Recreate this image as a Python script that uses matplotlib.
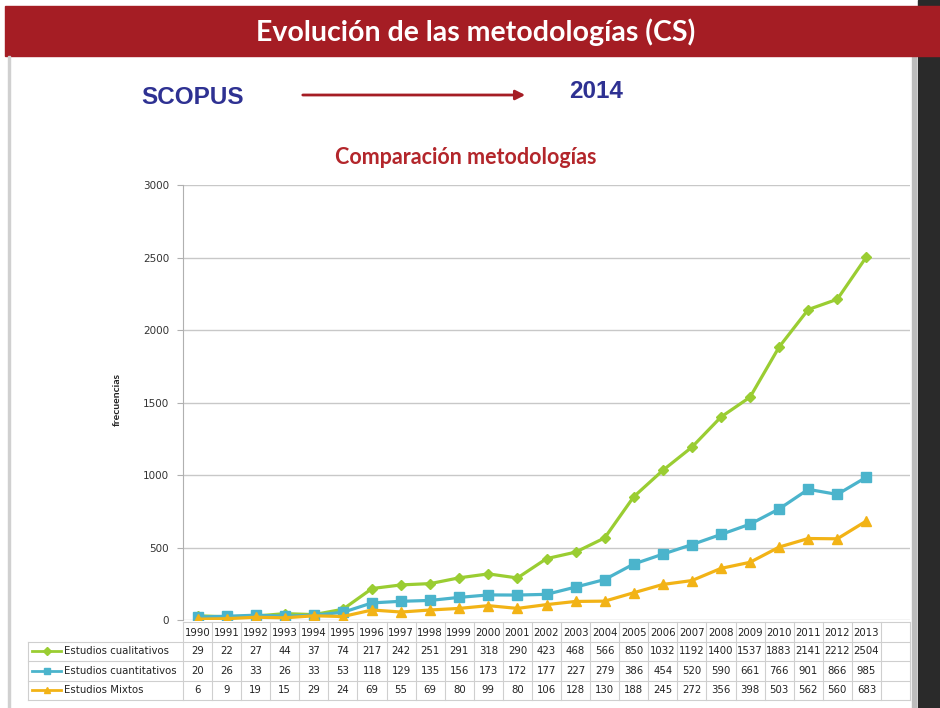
import matplotlib
matplotlib.use("Agg")
import matplotlib.pyplot as plt
from matplotlib.patches import Rectangle, FancyArrowPatch

years = ["1990", "1991", "1992", "1993", "1994", "1995", "1996", "1997", "1998", "1999",
         "2000", "2001", "2002", "2003", "2004", "2005", "2006", "2007", "2008", "2009",
         "2010", "2011", "2012", "2013"]
cualitativos = [29, 22, 27, 44, 37, 74, 217, 242, 251, 291, 318, 290, 423, 468, 566, 850,
                1032, 1192, 1400, 1537, 1883, 2141, 2212, 2504]
cuantitativos = [20, 26, 33, 26, 33, 53, 118, 129, 135, 156, 173, 172, 177, 227, 279, 386,
                 454, 520, 590, 661, 766, 901, 866, 985]
mixtos = [6, 9, 19, 15, 29, 24, 69, 55, 69, 80, 99, 80, 106, 128, 130, 188, 245, 272, 356,
          398, 503, 562, 560, 683]
series_names = ["Estudios cualitativos", "Estudios cuantitativos", "Estudios Mixtos"]
yticks = [0, 500, 1000, 1500, 2000, 2500, 3000]

W, H = 940, 708
fig = plt.figure(figsize=(W / 100, H / 100), dpi=100)
fig.patch.set_facecolor("white")

def fx(px):
    return px / W

def fy(py):
    return 1 - py / H

# background decorations
bg = fig.add_axes([0, 0, 1, 1])
bg.set_xlim(0, W)
bg.set_ylim(H, 0)
bg.axis("off")
bg.add_patch(Rectangle((918, 0), 22, H, color="#2a2a2a", zorder=0))
bg.add_patch(Rectangle((912, 55), 4, H - 55, color="#bdbdbd", zorder=0))
bg.add_patch(Rectangle((5, 6), 935, 50, color="#a51d24", zorder=1))
bg.add_patch(Rectangle((8, 56), 2, H - 56, color="#d0d0d0", zorder=1))
bg.text(476, 32, "Evolución de las metodologías (CS)", color="white", fontsize=20.5,
        fontweight="bold", family="Lato", ha="center", va="center", zorder=2)
bg.text(193, 98, "SCOPUS", color="#2e3192", fontsize=17.5, fontweight="bold",
        family=["Liberation Sans Narrow", "Liberation Sans"], ha="center", va="center")
bg.text(596, 91, "2014", color="#2e3192", fontsize=17.5, fontweight="bold",
        family=["Liberation Sans Narrow", "Liberation Sans"], ha="center", va="center")
bg.add_patch(FancyArrowPatch((300, 95), (528, 95), arrowstyle="-|>", mutation_scale=14,
                             color="#a51d24", lw=2))
bg.text(466, 157, "Comparación metodologías", color="#b3262b", fontsize=15.5,
        fontweight="bold", family="Lato", ha="center", va="center")
bg.text(117, 400, "frecuencias", rotation=90, fontsize=7.5, fontweight="bold",
        family="Lato", ha="center", va="center", color="#222222")

colors = ["#9acd32", "#4bb4cc", "#f2b316"]
markers = ["D", "s", "^"]
msizes = [5.5, 6.5, 7]
data = [cualitativos, cuantitativos, mixtos]

# main plot
L, R, T, B = 183, 910, 185, 620
ax = fig.add_axes([fx(L), fy(B), fx(R - L), fy(T) - fy(B)])
x = list(range(len(years)))
for vals, c, m, ms in zip(data, colors, markers, msizes):
    ax.plot(x, vals, color=c, lw=2.3, marker=m, markersize=ms, zorder=3)
ax.set_xlim(-0.5, len(years) + 0.5)
ax.set_ylim(0, 3000)
ax.set_yticks(yticks)
ax.set_yticklabels([str(v) for v in yticks], fontsize=7.5, color="#333333")
ax.set_xticks([])
ax.grid(axis="y", color="#c8c8c8", lw=1)
ax.set_axisbelow(True)
for s in ["top", "right", "bottom"]:
    ax.spines[s].set_visible(False)
ax.spines["left"].set_color("#b0b0b0")
ax.tick_params(axis="y", length=4, color="#b0b0b0", pad=6)

# data table
tax = fig.add_axes([fx(L), fy(700), fx(R - L), fy(622) - fy(700)])
tax.set_xlim(-0.5, len(years) + 0.5)
tax.set_ylim(4, 0)
tax.axis("off")
lc = "#cfcfcf"
n = len(years)
labx0 = -0.5 - (L - 28) / ((R - L) / (n + 1))
for r in [0]:
    tax.plot([-0.5, n + 0.5], [r, r], color=lc, lw=0.8, clip_on=False)
for r in [1, 2, 3, 4]:
    tax.plot([labx0, n + 0.5], [r, r], color=lc, lw=0.8, clip_on=False)
for k in range(n + 2):
    tax.plot([k - 0.5, k - 0.5], [0, 4], color=lc, lw=0.8, clip_on=False)
tax.plot([labx0, labx0], [1, 4], color=lc, lw=0.8, clip_on=False)
fs = 7.3
for i, yv in enumerate(years):
    tax.text(i, 0.55, yv, ha="center", va="center", fontsize=fs, color="#222222")
for r, (vals, c, m, name) in enumerate(zip(data, colors, markers, series_names)):
    yy = r + 1.5
    for i, v in enumerate(vals):
        tax.text(i, yy, str(v), ha="center", va="center", fontsize=fs, color="#222222")
    tax.plot([labx0 + 0.15, labx0 + 1.15], [yy, yy], color=c, lw=2, clip_on=False)
    tax.plot([labx0 + 0.65], [yy], marker=m, color=c, markersize=4, clip_on=False)
    tax.text(labx0 + 1.25, yy, name, ha="left", va="center", fontsize=7.3,
             color="#222222", clip_on=False)

fig.savefig("out.png", dpi=100)
